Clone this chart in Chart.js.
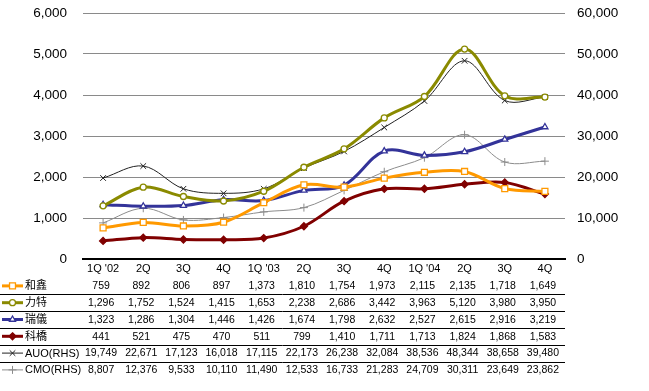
<!DOCTYPE html>
<html>
<head>
<meta charset="utf-8">
<script src="https://cdn.jsdelivr.net/npm/chart.js"></script>
<style>
  html, body { margin: 0; padding: 0; background: #fff; }
  #wrap { width: 649px; height: 391px; position: relative; }
</style>
</head>
<body>
<div id="wrap"><canvas id="chart" width="649" height="391"></canvas></div>
<script>
// quarters
const categories = ["1Q '02", "2Q", "3Q", "4Q", "1Q '03", "2Q", "3Q", "4Q", "1Q '04", "2Q", "3Q", "4Q"];

// left axis series
const hexin = [759, 892, 806, 897, 1373, 1810, 1754, 1973, 2115, 2135, 1718, 1649];
const lite = [1296, 1752, 1524, 1415, 1653, 2238, 2686, 3442, 3963, 5120, 3980, 3950];
const ruiyi = [1323, 1286, 1304, 1446, 1426, 1674, 1798, 2632, 2527, 2615, 2916, 3219];
const keqiao = [441, 521, 475, 470, 511, 799, 1410, 1711, 1713, 1824, 1868, 1583];

// right axis series
const auo = [19749, 22671, 17123, 16018, 17115, 22173, 26238, 32084, 38536, 48344, 38658, 39480];
const cmo = [8807, 12376, 9533, 10110, 11490, 12533, 16733, 21283, 24709, 30311, 23649, 23862];

const leftTicks = [0, 1000, 2000, 3000, 4000, 5000, 6000];
const rightTicks = [0, 10000, 20000, 30000, 40000, 50000, 60000];

const FONT = "'Liberation Sans', Arial, sans-serif";
const CJK = "'Liberation Sans', 'Noto Sans CJK TC', sans-serif";

function fmt(v) {
    return v.toLocaleString("en-US");
}

function mainSeries(label, data, color, style, fill, radius) {
    return {
        label: label,
        data: data,
        yAxisID: "y",
        borderColor: color,
        backgroundColor: fill,
        borderWidth: 3,
        pointStyle: style,
        pointRadius: radius,
        pointBorderWidth: 1.3,
        pointBackgroundColor: fill,
        pointBorderColor: color,
        tension: 0.35
    };
}

function thinSeries(label, data, color, style) {
    return {
        label: label,
        data: data,
        yAxisID: "y1",
        borderColor: color,
        backgroundColor: color,
        borderWidth: 1,
        pointStyle: style,
        pointRadius: 4,
        pointBorderWidth: 1,
        pointBorderColor: color,
        tension: 0.35
    };
}

const datasets = [
    mainSeries("和鑫", hexin, "#ff9900", "rect", "#ffffff", 4.2),
    mainSeries("力特", lite, "#8a8a00", "circle", "#ffffff", 3),
    mainSeries("瑞儀", ruiyi, "#333399", "triangle", "#ffffff", 3.5),
    mainSeries("科橋", keqiao, "#800000", "rectRot", "#800000", 3.5),
    thinSeries("AUO(RHS)", auo, "#222222", "crossRot"),
    thinSeries("CMO(RHS)", cmo, "#8c8c8c", "cross")
];

function drawMarker(ctx, style, r, x, y) {
    ctx.beginPath();
    if (style === "rect") {
        const s = r * Math.SQRT1_2;
        ctx.rect(x - s, y - s, 2 * s, 2 * s);
        ctx.fill();
        ctx.stroke();
    } else if (style === "circle") {
        ctx.arc(x, y, r, 0, Math.PI * 2);
        ctx.fill();
        ctx.stroke();
    } else if (style === "triangle") {
        ctx.moveTo(x, y - r);
        ctx.lineTo(x + r * 0.87, y + r * 0.5);
        ctx.lineTo(x - r * 0.87, y + r * 0.5);
        ctx.closePath();
        ctx.fill();
        ctx.stroke();
    } else if (style === "rectRot") {
        ctx.moveTo(x, y - r);
        ctx.lineTo(x + r, y);
        ctx.lineTo(x, y + r);
        ctx.lineTo(x - r, y);
        ctx.closePath();
        ctx.fill();
        ctx.stroke();
    } else if (style === "crossRot") {
        const d = r * 0.7;
        ctx.moveTo(x - d, y - d); ctx.lineTo(x + d, y + d);
        ctx.moveTo(x + d, y - d); ctx.lineTo(x - d, y + d);
        ctx.stroke();
    } else if (style === "cross") {
        ctx.moveTo(x - r, y); ctx.lineTo(x + r, y);
        ctx.moveTo(x, y - r); ctx.lineTo(x, y + r);
        ctx.stroke();
    }
}

// data table under the plot, one row per series
const tablePlugin = {
    id: "dataTable",
    afterDraw(chart) {
        const ctx = chart.ctx;
        const xs = chart.scales.x;
        const top = 277.5;
        const rowH = 16.8;
        ctx.save();
        datasets.forEach((ds, i) => {
            const cy = top + rowH * i + rowH / 2;

            // legend key
            ctx.strokeStyle = ds.borderColor;
            ctx.lineWidth = ds.borderWidth;
            ctx.beginPath();
            ctx.moveTo(2, cy);
            ctx.lineTo(23, cy);
            ctx.stroke();
            ctx.fillStyle = ds.pointBackgroundColor || ds.borderColor;
            ctx.strokeStyle = ds.borderColor;
            ctx.lineWidth = ds.pointBorderWidth;
            drawMarker(ctx, ds.pointStyle, ds.pointRadius, 12.5, cy);

            ctx.fillStyle = "#000";
            ctx.font = "11px " + CJK;
            ctx.textAlign = "left";
            ctx.textBaseline = "middle";
            ctx.fillText(ds.label, 25, cy + 0.5);

            ctx.font = "10.5px " + FONT;
            ctx.textAlign = "center";
            ds.data.forEach((v, j) => {
                ctx.fillText(fmt(v), xs.getPixelForValue(j) - 2, cy + 0.5);
            });

            if (i < datasets.length - 1) {
                const ly = Math.round(top + rowH * (i + 1)) + 0.5;
                ctx.strokeStyle = "#000";
                ctx.lineWidth = 1;
                ctx.beginPath();
                ctx.moveTo(0, ly);
                ctx.lineTo(565, ly);
                ctx.stroke();
            }
        });
        ctx.restore();
    }
};

function fitSide(width) {
    return function (scale) {
        scale.width = width;
        scale.paddingTop = 0;
        scale.paddingBottom = 0;
    };
}

const chart = new Chart(document.getElementById("chart").getContext("2d"), {
    type: "line",
    data: { labels: categories, datasets: datasets },
    options: {
        responsive: false,
        animation: false,
        layout: { padding: { top: 13, left: 0, right: 0, bottom: 0 } },
        plugins: {
            legend: { display: false },
            tooltip: { enabled: false }
        },
        scales: {
            x: {
                offset: true,
                grid: { display: false, drawTicks: false },
                border: { display: true, color: "#000", width: 2 },
                ticks: {
                    color: "#000",
                    font: { family: FONT, size: 11 },
                    padding: 3,
                    maxRotation: 0,
                    autoSkip: false
                },
                afterFit(scale) {
                    scale.height = 132;
                    scale.paddingLeft = 0;
                    scale.paddingRight = 0;
                }
            },
            y: {
                position: "left",
                min: 0,
                max: 6000,
                afterBuildTicks(scale) { scale.ticks = leftTicks.map(v => ({ value: v })); },
                grid: {
                    color: ctx => ctx.tick && ctx.tick.value === 0 ? "rgba(0,0,0,0)" : "#8a8a8a",
                    drawTicks: false,
                    lineWidth: 1
                },
                border: { display: false },
                ticks: {
                    color: "#000",
                    font: { family: FONT, size: 13.5 },
                    padding: 16,
                    callback: v => fmt(v)
                },
                afterFit: fitSide(83)
            },
            y1: {
                position: "right",
                min: 0,
                max: 60000,
                afterBuildTicks(scale) { scale.ticks = rightTicks.map(v => ({ value: v })); },
                grid: { display: false, drawTicks: false },
                border: { display: false },
                ticks: {
                    color: "#000",
                    font: { family: FONT, size: 13.5 },
                    padding: 12,
                    callback: v => fmt(v)
                },
                afterFit: fitSide(84)
            }
        }
    },
    plugins: [tablePlugin]
});
</script>
</body>
</html>
